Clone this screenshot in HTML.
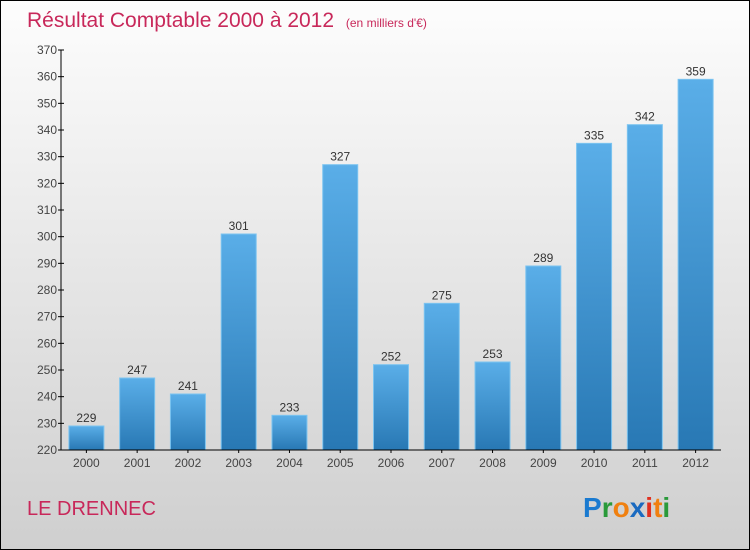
<!DOCTYPE html>
<html><head><meta charset="utf-8"><style>
body{margin:0}
#c{width:748px;height:548px;border:1px solid #000;background:linear-gradient(#fdfdfd,#cfcfcf);position:relative;font-family:"Liberation Sans",sans-serif;overflow:hidden}
</style></head><body>
<div id="c">
<svg id="s" width="748" height="548">
<defs><linearGradient id="g" x1="0" y1="0" x2="0" y2="1"><stop offset="0" stop-color="#5aaee8"/><stop offset="1" stop-color="#2878b4"/></linearGradient></defs>
<text x="26" y="26" font-size="21" fill="#c8285a">Résultat Comptable 2000 à 2012 <tspan font-size="12" dx="6">(en milliers d'€)</tspan></text>
<text x="26" y="514" font-size="20" fill="#c8285a">LE DRENNEC</text>
<text x="582" y="516" font-size="28" font-weight="bold"><tspan fill="#1a7ad0">P</tspan><tspan fill="#2a9a3a">r</tspan><tspan fill="#f08010">o</tspan><tspan fill="#1a6ac0">x</tspan><tspan fill="#e03020">i</tspan><tspan fill="#f08010">t</tspan><tspan fill="#2a9a3a">i</tspan></text>
</svg></div>
<script>
const categories=["2000","2001","2002","2003","2004","2005","2006","2007","2008","2009","2010","2011","2012"];
const values=[229,247,241,301,233,327,252,275,253,289,335,342,359];
const ticks=[220,230,240,250,260,270,280,290,300,310,320,330,340,350,360,370];
const s=document.getElementById('s'),NS='http://www.w3.org/2000/svg';
const y0=449,y1=49,vmin=220,vmax=370,xl=60,xr=720;
const yS=v=>y0-(v-vmin)/(vmax-vmin)*(y0-y1);
const step=(xr-xl)/categories.length;
const xS=i=>xl+step*(i+0.5);
function mk(t,a,txt){const e=document.createElementNS(NS,t);for(const k in a)e.setAttribute(k,a[k]);if(txt!=null)e.textContent=txt;s.appendChild(e);return e;}
ticks.forEach(t=>{
 let l=mk('line',{x1:xl-3,x2:xl+3,y1:yS(t),y2:yS(t),stroke:'#000'});
 
 
 let tx=mk('text',{x:xl-4,y:yS(t)+4,'font-size':12,fill:'#444','text-anchor':'end'},t);
 
 
});
values.forEach((v,i)=>{
 const w=35,x=xS(i)-w/2;
 let r=mk('rect',{x:x,y:yS(v),width:w,height:y0-yS(v),fill:'url(#g)',stroke:'#7cc4f0','stroke-width':1});
 
 
 let t=mk('text',{x:xS(i),y:yS(v)-4,'font-size':12,fill:'#333','text-anchor':'middle'},v);
 
 
 let c=mk('text',{x:xS(i),y:466,'font-size':12,fill:'#444','text-anchor':'middle'},categories[i]);
 
 
 let tk=mk('line',{x1:xS(i),x2:xS(i),y1:y0,y2:y0+3,stroke:'#000'});
 
 
});
let ya=mk('line',{x1:xl,x2:xl,y1:y1,y2:y0,stroke:'#000'});


let xa=mk('line',{x1:xl,x2:xr,y1:y0,y2:y0,stroke:'#000'});


</script>
</body></html>
